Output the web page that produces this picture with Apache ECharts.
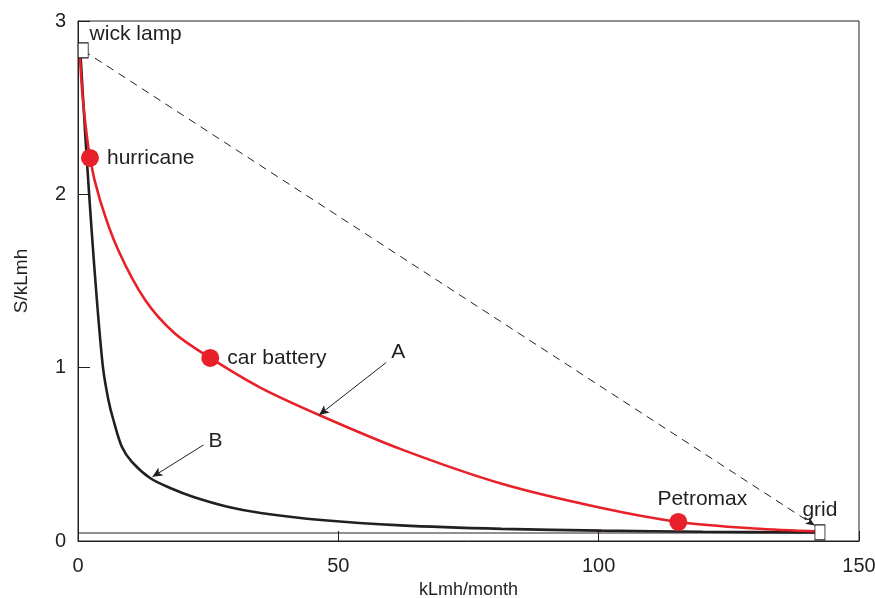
<!DOCTYPE html>
<html>
<head>
<meta charset="utf-8">
<script src="https://cdn.jsdelivr.net/npm/echarts@6/dist/echarts.min.js"></script>
<style>html,body{margin:0;padding:0;background:#fff}#c{width:875px;height:598px}</style>
</head>
<body>
<div id="c"></div>
<script>
// Curve A (red): [kLmh/month, S/kLmh]
var curveA = [[0.3,2.84],[0.9,2.56],[2.3,2.21],[4.2,1.97],[7.7,1.68],[12.9,1.39],[18.5,1.2],[25.4,1.056],[35,0.885],[46.3,0.727],[62,0.53],[81.4,0.33],[100.6,0.19],[115.3,0.11],[130,0.072],[142.5,0.055]];
// Curve B (black)
var curveB = [[0.4,2.85],[1.0,2.54],[1.7,2.2],[2.6,1.8],[3.6,1.4],[4.8,1.0],[5.84,0.814],[6.8,0.698],[8.42,0.544],[10.35,0.457],[13.9,0.362],[17.7,0.306],[22.2,0.254],[28.7,0.198],[35.1,0.162],[46.7,0.121],[62,0.09],[81.4,0.07],[100.6,0.06],[120,0.053],[142.5,0.05]];
// Named technologies on curve A
var pointNames = ['hurricane','car battery','Petromax'];
var pointValues = [[2.3,2.21],[25.4,1.056],[115.3,0.11]];
// End points: wick lamp and grid
var endNames = ['wick lamp','grid'];
var endValues = [[1.0,2.83],[142.5,0.05]];
// Grid reference level
var gridLevel = [[0,0.046],[142.5,0.046]];
// Callout arrows: [from, to]
var arrowA = [[59.2,1.03],[46.3,0.727]];
var arrowB = [[24.1,0.554],[14.3,0.37]];
var calloutNames = ['A','B'];
var calloutPos = [[61.5,1.09],[26.4,0.575]];
var xTicks = [0,50,100,150];
var yTicks = [0,1,2,3];

var ink = '#231f20';
var red = '#e8202a';
var font = 'Liberation Sans, Arial, Helvetica, sans-serif';
var fs = 21;

var chart = echarts.init(document.getElementById('c'));
chart.setOption({
  animation: false,
  grid: {left: 78, right: 16, top: 21, bottom: 57, outerBoundsMode: 'none', containLabel: false,
    show: true, borderColor: ink, borderWidth: 1, backgroundColor: 'transparent'},
  xAxis: {
    type: 'value', min: xTicks[0], max: xTicks[xTicks.length-1], interval: 50,
    name: 'kLmh/month', nameLocation: 'middle', nameGap: 40,
    nameTextStyle: {color: ink, fontSize: 18, fontFamily: font},
    axisLine: {show: true, lineStyle: {color: ink, width: 1}},
    axisTick: {show: true, inside: true, length: 10, lineStyle: {color: ink}},
    axisLabel: {color: ink, fontSize: 20, fontFamily: font, margin: 15},
    splitLine: {show: false}
  },
  yAxis: {
    type: 'value', min: yTicks[0], max: yTicks[yTicks.length-1], interval: 1,
    name: 'S/kLmh', nameLocation: 'middle', nameGap: 47,
    nameTextStyle: {color: ink, fontSize: 19, fontFamily: font},
    axisLine: {show: true, lineStyle: {color: ink, width: 1}},
    axisTick: {show: true, inside: true, length: 12, lineStyle: {color: ink}},
    axisLabel: {color: ink, fontSize: 20, fontFamily: font, margin: 12},
    splitLine: {show: false}
  },
  series: [
    {type: 'line', data: gridLevel, symbol: 'none', lineStyle: {color: ink, width: 1}, z: 1, silent: true},
    {type: 'line', data: curveB, smooth: 0.3, symbol: 'none', lineStyle: {color: ink, width: 2.6}, z: 2,
      markLine: {silent: true, symbol: ['none','arrow'], symbolSize: [7,10], animation: false,
        lineStyle: {color: ink, width: 1, type: 'solid'}, label: {show: false},
        data: [[{coord: arrowA[0]},{coord: arrowA[1]}],[{coord: arrowB[0]},{coord: arrowB[1]}]]}},
    {type: 'line', data: curveA, smooth: 0.3, symbol: 'none', lineStyle: {color: red, width: 2.6}, z: 3},
    {type: 'line', data: [], symbol: 'none',
      markLine: {silent: true, symbol: ['none','arrow'], symbolSize: [6,9], animation: false,
        lineStyle: {color: ink, width: 1, type: [8,6]}, label: {show: false},
        data: [[{coord: endValues[0]},{coord: [141.5,0.09]}]]}},
    {type: 'scatter', symbol: 'circle', symbolSize: 18, z: 5,
      itemStyle: {color: red, opacity: 1},
      data: pointValues.map(function(v,i){
        var lab = {show: true, formatter: pointNames[i], position: 'right', distance: 8, color: ink, fontSize: fs, fontFamily: font};
        if (i === 2) { lab.position = 'top'; lab.distance = 3; lab.offset = [24,0]; }
        return {value: v, label: lab};
      })},
    {type: 'scatter', symbol: 'rect', symbolSize: [10,15], z: 6,
      itemStyle: {color: '#fff', borderColor: ink, borderWidth: 1, opacity: 1},
      data: endValues.map(function(v,i){
        var lab = {show: true, formatter: endNames[i], color: ink, fontSize: fs, fontFamily: font};
        if (i === 0) { lab.position = 'right'; lab.distance = 1; lab.offset = [0,-16]; }
        else { lab.position = 'top'; lab.distance = 4; }
        return {value: v, label: lab};
      })},
    {type: 'scatter', symbolSize: 0, z: 6, silent: true,
      itemStyle: {opacity: 1, color: ink},
      data: calloutPos.map(function(v,i){
        return {value: v, label: {show: true, formatter: calloutNames[i], position: 'inside', color: ink, opacity: 1, fontSize: fs, fontFamily: font}};
      })}
  ]
});
</script>
</body>
</html>
